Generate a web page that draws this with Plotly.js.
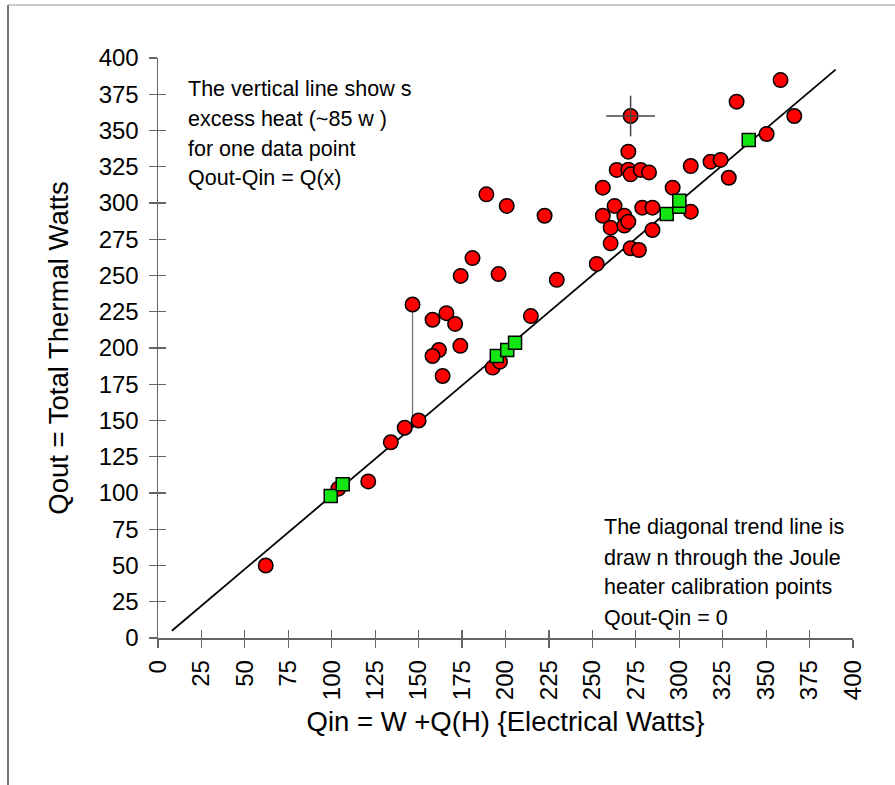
<!DOCTYPE html>
<html>
<head>
<meta charset="utf-8">
<script src="https://cdn.plot.ly/plotly-3.0.1.min.js"></script>
<style>html,body{margin:0;padding:0;background:#fff;}#chart{width:895px;height:785px;}</style>
</head>
<body>
<div id="chart"></div>
<script>
// Experimental points (Qin, Qout)
var runQin  = [62, 103.8, 121, 134, 142, 150, 146.5, 158, 166, 171, 174, 161.7, 158, 163.8, 174.2, 181, 189, 200.7, 196, 192.6, 196.8, 214.6, 222.5, 229.5, 252.5, 256, 256, 260.5, 260.5, 262.8, 264, 268.4, 268.4, 270.7, 270.7, 270.7, 272, 272, 276.8, 277.8, 282.6, 278.7, 284.6, 284.6, 296.2, 306.6, 306.6, 318, 323.8, 328.5, 333, 350.3, 358.3, 366.2, 272];
var runQout = [50, 103, 108, 135, 145, 150, 230, 219.5, 224, 216.6, 201.5, 198.6, 194.5, 180.7, 249.7, 262, 306, 298, 251, 186.5, 190.6, 222, 291.2, 247, 258, 310.6, 291.2, 283, 272.2, 298, 322.8, 291.2, 284.4, 287.1, 335.4, 323, 319.8, 268.8, 267.6, 322.8, 321.1, 296.8, 296.8, 281.4, 310.6, 294, 325.5, 328.5, 329.7, 317.4, 369.9, 347.6, 384.8, 360, 360];
// Joule heater calibration points
var calQin  = [99.4, 106.3, 195, 201, 205.5, 292.8, 300, 300, 340];
var calQout = [98, 106, 194.5, 198.6, 203.7, 292.4, 297.5, 301.6, 343.4];
// Diagonal trend line through calibration points
var trendQin  = [8, 390];
var trendQout = [5, 392];
// Excess heat line for one data point
var excessQin  = [146.5, 146.5];
var excessQout = [145.5, 230];
// Highlighted point (crosshair)
var markQin = [272];
var markQout = [360];
var markErr = [14];
// Tick values
var tickVals = [0,25,50,75,100,125,150,175,200,225,250,275,300,325,350,375,400];

var axisCol = '#666';
var tickFont = {family: '"Liberation Sans", Arial, sans-serif', size: 24, color: '#000'};
var titleFont = {family: '"Liberation Sans", Arial, sans-serif', size: 27.5, color: '#000'};

var traces = [
  {x: excessQin, y: excessQout, mode: 'lines', line: {color: '#777', width: 1.3}, hoverinfo: 'skip', showlegend: false},
  {x: trendQin, y: trendQout, mode: 'lines', line: {color: '#000', width: 1.8}, showlegend: false},
  {x: runQin, y: runQout, mode: 'markers', marker: {symbol: 'circle', size: 14.5, color: '#ff0000', line: {color: '#000', width: 1.5}}, showlegend: false},
  {x: calQin, y: calQout, mode: 'markers', marker: {symbol: 'square', size: 13, color: '#14e614', line: {color: '#000', width: 1.5}}, showlegend: false},
  {x: markQin, y: markQout, mode: 'markers', marker: {size: 1, color: 'rgba(0,0,0,0)'},
   error_x: {type: 'data', array: markErr, symmetric: true, color: '#444', thickness: 1.5, width: 0},
   error_y: {type: 'data', array: markErr, symmetric: true, color: '#444', thickness: 1.5, width: 0}, showlegend: false},
  {x: [], y: [], xaxis: 'x2', yaxis: 'y2', showlegend: false}
];

function ann(x, y, t) {
  return {x: x, y: y, xref: 'x', yref: 'y', text: t, showarrow: false, xanchor: 'left', yanchor: 'middle',
          font: {family: '"Liberation Sans", Arial, sans-serif', size: 21.5, color: '#000'}};
}

var layout = {
  width: 895, height: 785,
  margin: {l: 158, r: 42, t: 58, b: 147},
  paper_bgcolor: '#fff', plot_bgcolor: '#fff',
  showlegend: false,
  xaxis: {
    range: [0, 400], tickvals: tickVals, ticktext: tickVals.map(String), tickangle: -90,
    ticks: 'outside', ticklen: 8, tickwidth: 1.2, tickcolor: axisCol,
    showline: true, linecolor: axisCol, linewidth: 1.5, showgrid: false, zeroline: false,
    tickfont: tickFont, ticklabelstandoff: 3,
    title: {text: 'Qin = W +Q(H) {Electrical Watts}', font: titleFont, standoff: 12}
  },
  yaxis: {
    range: [0, 400], tickvals: tickVals, ticktext: tickVals.map(String),
    ticks: 'outside', ticklen: 8, tickwidth: 1.2, tickcolor: axisCol,
    showline: true, linecolor: axisCol, linewidth: 1.5, showgrid: false, zeroline: false,
    tickfont: tickFont, ticklabelstandoff: 5,
    title: {text: 'Qout = Total Thermal Watts', font: titleFont, standoff: 22}
  },
  xaxis2: {range: [0, 400], overlaying: 'x', anchor: 'y', side: 'bottom', tickvals: tickVals, ticks: 'inside', ticklen: 8, tickwidth: 1.2, tickcolor: axisCol, showticklabels: false, showline: false, showgrid: false, zeroline: false},
  yaxis2: {range: [0, 400], overlaying: 'y', anchor: 'x', side: 'left', tickvals: tickVals, ticks: 'inside', ticklen: 8, tickwidth: 1.2, tickcolor: axisCol, showticklabels: false, showline: false, showgrid: false, zeroline: false},
  annotations: [
    ann(16, 378.6, 'The vertical line show s'),
    ann(16, 358, 'excess heat (~85 w )'),
    ann(16, 337.5, 'for one data point'),
    ann(16, 317.5, 'Qout-Qin = Q(x)'),
    ann(255.5, 76.5, 'The diagonal trend line is'),
    ann(255.5, 55.5, 'draw n through the Joule'),
    ann(255.5, 35, 'heater calibration points'),
    ann(255.5, 14, 'Qout-Qin = 0')
  ],
  shapes: [
    {type: 'line', xref: 'paper', yref: 'paper', x0: (8-158)/695, x1: (8-158)/695, y0: (638-5)/580, y1: (638-790)/580, line: {color: '#777', width: 2}},
    {type: 'line', xref: 'paper', yref: 'paper', x0: (8-158)/695, x1: (900-158)/695, y0: (638-5)/580, y1: (638-5)/580, line: {color: '#999', width: 1}}
  ]
};

Plotly.newPlot('chart', traces, layout, {displayModeBar: false, staticPlot: true});
</script>
</body>
</html>
